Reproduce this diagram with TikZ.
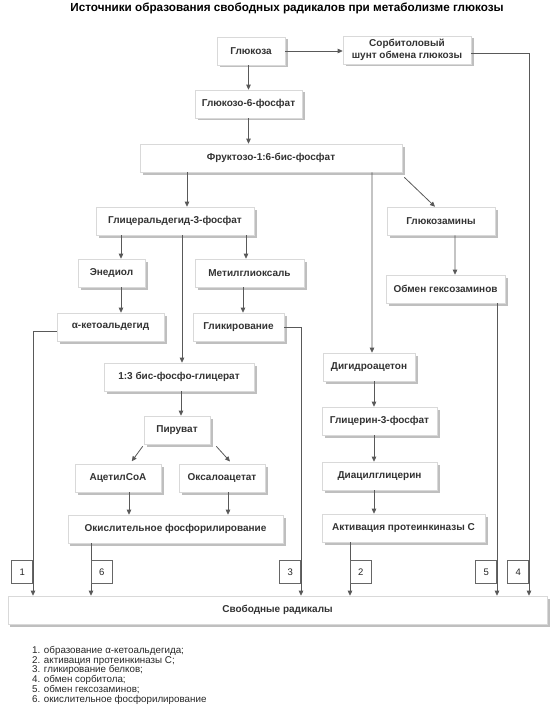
\documentclass[tikz,border=0pt]{standalone}
\usepackage{fontspec}
\setmainfont{Liberation Sans}
\usetikzlibrary{positioning,shadows,arrows.meta}
\tikzset{
  stage node/.style={draw=black!15,fill=white,line width=0.6bp,text=black!80,
    font=\fontsize{10bp}{11.5bp}\selectfont\bfseries,minimum height=28bp,inner sep=0pt,align=center,
    drop shadow={shadow xshift=2.5bp,shadow yshift=-2.5bp,fill=black!50}},
  num node/.style={draw=black!60,fill=white,line width=0.6bp,minimum width=21bp,minimum height=23bp,
    inner sep=0pt,font=\fontsize{9.5bp}{10bp}\selectfont,text=black!85},
  link/.style={draw=black!65,line width=0.8bp},
  arr/.style={link,-{Triangle[length=5bp,width=4.5bp]}},
}

\begin{document}
\begin{tikzpicture}[x=1bp,y=-1bp]
    \useasboundingbox (0,0) rectangle (560,723);
    \node[font=\fontsize{11.7bp}{13bp}\selectfont\bfseries] (title) at (287,8)
        {Источники образования свободных радикалов при метаболизме глюкозы};

    % glucose and its branches
    \node[stage node,minimum width=68bp]  (glc)  at (251,51)  {Глюкоза};
    \node[stage node,minimum width=128bp] (sorb) at (407,50)  {Сорбитоловый\\шунт обмена глюкозы};
    \node[stage node,minimum width=107bp] (g6p)  at (248.5,104) {Глюкозо-6-фосфат};
    \node[stage node,minimum width=262bp] (fru)  at (271,158) {Фруктозо-1:6-бис-фосфат};
    \node[stage node,minimum width=158bp] (gap)  at (175,221) {Глицеральдегид-3-фосфат};
    \node[stage node,minimum width=108bp] (gam)  at (441,221) {Глюкозамины};
    \node[stage node,minimum width=67bp]  (ened) at (111.5,273) {Энедиол};
    \node[stage node,minimum width=109bp] (mgo)  at (249.5,273) {Метилглиоксаль};
    \node[stage node,minimum width=119bp] (hex)  at (445.5,289) {Обмен гексозаминов};
    \node[stage node,minimum width=107bp] (keto) at (110.5,327) {α-кетоальдегид};
    \node[stage node,minimum width=91bp]  (glyc) at (238.5,327) {Гликирование};
    \node[stage node,minimum width=92bp]  (dha)  at (369,367) {Дигидроацетон};
    \node[stage node,minimum width=150bp] (bpg)  at (179,377) {1:3 бис-фосфо-глицерат};
    \node[stage node,minimum width=115bp] (g3p)  at (379.5,421) {Глицерин-3-фосфат};
    \node[stage node,minimum width=66bp]  (pyr)  at (177,430) {Пируват};
    \node[stage node,minimum width=115bp] (dag)  at (379.5,476) {Диацилглицерин};
    \node[stage node,minimum width=86bp]  (acoa) at (118,478) {АцетилCoA};
    \node[stage node,minimum width=86bp]  (oaa)  at (222,478) {Оксалоацетат};
    \node[stage node,minimum width=215bp] (oxph) at (175.5,529) {Окислительное фосфорилирование};
    \node[stage node,minimum width=163bp] (pkc)  at (403.5,528) {Активация протеинкиназы С};
    \node[stage node,minimum width=539bp] (fr)   at (277.5,610) {Свободные радикалы};

    % columns of the connectors
    \coordinate (c1) at (33,0);
    \coordinate (c6) at (91,0);
    \coordinate (c3) at (301,0);
    \coordinate (c2) at (350,0);
    \coordinate (c5) at (497,0);
    \coordinate (c4) at (529,0);
    \coordinate (cd) at (374,0);

    \draw[arr] (glc.east) -- (glc.east -| sorb.west);
    \draw[arr] (glc.south -| g6p.north) -- (g6p.north);
    \draw[arr] (g6p.south) -- (g6p.south |- fru.north);
    \draw[arr] ([xshift=12bp]gap.north |- fru.south) -- ([xshift=12bp]gap.north);
    \draw[arr] (fru.south -| cd) ++(-2,0) -- ([xshift=3bp]dha.north);
    \draw[arr] ([xshift=2bp,yshift=-5bp]fru.south east) -- ([xshift=-6bp]gam.north);
    \draw[arr] (gam.south -| c5) ++(-42,0) -- ([xshift=9.5bp]hex.north);

    \draw[arr] ([xshift=9.5bp]ened.north |- gap.south) -- ([xshift=9.5bp]ened.north);
    \draw[arr] ([xshift=-3.5bp]mgo.north |- gap.south) -- ([xshift=-3.5bp]mgo.north);
    \draw[arr] ([xshift=3bp]bpg.north |- gap.south) -- ([xshift=3bp]bpg.north);
    \draw[arr] ([xshift=9.5bp]ened.south) -- ([xshift=9.5bp]ened.south |- keto.north);
    \draw[arr] ([xshift=4.5bp]glyc.north |- mgo.south) -- ([xshift=4.5bp]glyc.north);
    \draw[arr] ([xshift=4bp]pyr.north |- bpg.south) -- ([xshift=4bp]pyr.north);
    \draw[arr,shorten >=3bp] ([xshift=-1bp,yshift=-2bp]pyr.south west) -- ([xshift=12bp]acoa.north);
    \draw[arr,shorten >=3bp] ([xshift=6bp,yshift=-2bp]pyr.south east) -- ([xshift=10bp]oaa.north);
    \draw[arr] ([xshift=11bp]acoa.south) -- ([xshift=11bp]acoa.south |- oxph.north);
    \draw[arr] ([xshift=6bp]oaa.south) -- ([xshift=6bp]oaa.south |- oxph.north);

    \draw[arr] (dha.south -| cd) -- (cd |- g3p.north);
    \draw[arr] (g3p.south -| cd) -- (cd |- dag.north);
    \draw[arr] (dag.south -| cd) -- (cd |- pkc.north);

    % routes into the free radicals
    \draw[arr] ([yshift=-4bp]keto.west) -| (c1 |- fr.north);
    \draw[arr] (oxph.south -| c6) -- (c6 |- fr.north);
    \draw[arr] (glyc.east) -| (c3 |- fr.north);
    \draw[arr] (pkc.south -| c2) -- (c2 |- fr.north);
    \draw[arr] (hex.south -| c5) -- (c5 |- fr.north);
    \draw[arr] ([yshift=-3bp]sorb.east) -| (c4 |- fr.north);

    \node[num node,anchor=north east] (l1) at (33,560)  {1};
    \node[num node,anchor=north west] (l6) at (91,560)  {6};
    \node[num node,anchor=north east] (l3) at (301,560) {3};
    \node[num node,anchor=north west] (l2) at (350,560) {2};
    \node[num node,anchor=north east] (l5) at (497,560) {5};
    \node[num node,anchor=north east] (l4) at (529,560) {4};

    \node[anchor=north west,align=left,inner sep=0pt,text=black!85,
          font=\fontsize{9.8bp}{9.8bp}\selectfont] (legend) at (32,646)
        {1. образование α-кетоальдегида;\\
         2. активация протеинкиназы С;\\
         3. гликирование белков;\\
         4. обмен сорбитола;\\
         5. обмен гексозаминов;\\
         6. окислительное фосфорилирование};
\end{tikzpicture}
\end{document}
